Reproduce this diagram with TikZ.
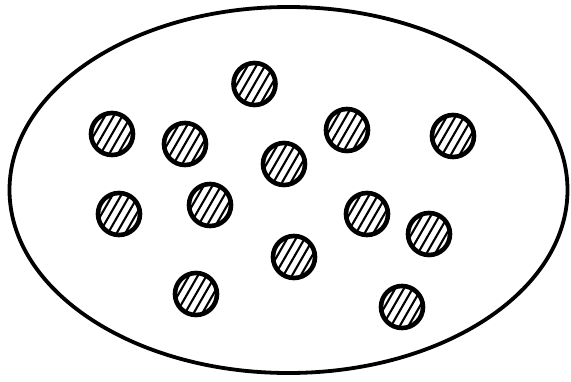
\documentclass[tikz,border=0pt]{standalone}
\tikzset{
  dot/.style={circle, draw=black, line width=4.6pt, minimum size=42pt, inner sep=0pt},
  hatch/.style={line width=2.1pt, black},
  outline/.style={draw=black, line width=3.8pt}
}
\newcommand{\hatchdot}[3]{%
  \begin{scope}
    \clip (#2,#3) circle (21);
    \foreach \k in {-43.5,-34.8,...,44} {
      \draw[hatch, shift={(#2,#3)}] (\k-21,36.4) -- ++(42,-72.8);
    }
  \end{scope}
  \node[dot] (#1) at (#2,#3) {};
}
\begin{document}
\begin{tikzpicture}[x=1pt, y=-1pt]
  \useasboundingbox (0,0) rectangle (571,381);
  \path[outline] (288.5,190) ellipse [x radius=279, y radius=183];
  \hatchdot{c1}{254.5}{84}
  \hatchdot{c2}{112}{134}
  \hatchdot{c3}{185}{144}
  \hatchdot{c4}{347}{130}
  \hatchdot{c5}{453}{136}
  \hatchdot{c6}{284}{164}
  \hatchdot{c7}{119}{214}
  \hatchdot{c8}{210}{205}
  \hatchdot{c9}{367}{214}
  \hatchdot{c10}{429}{234}
  \hatchdot{c11}{294}{257}
  \hatchdot{c12}{196}{294}
  \hatchdot{c13}{402}{307}
\end{tikzpicture}
\end{document}
